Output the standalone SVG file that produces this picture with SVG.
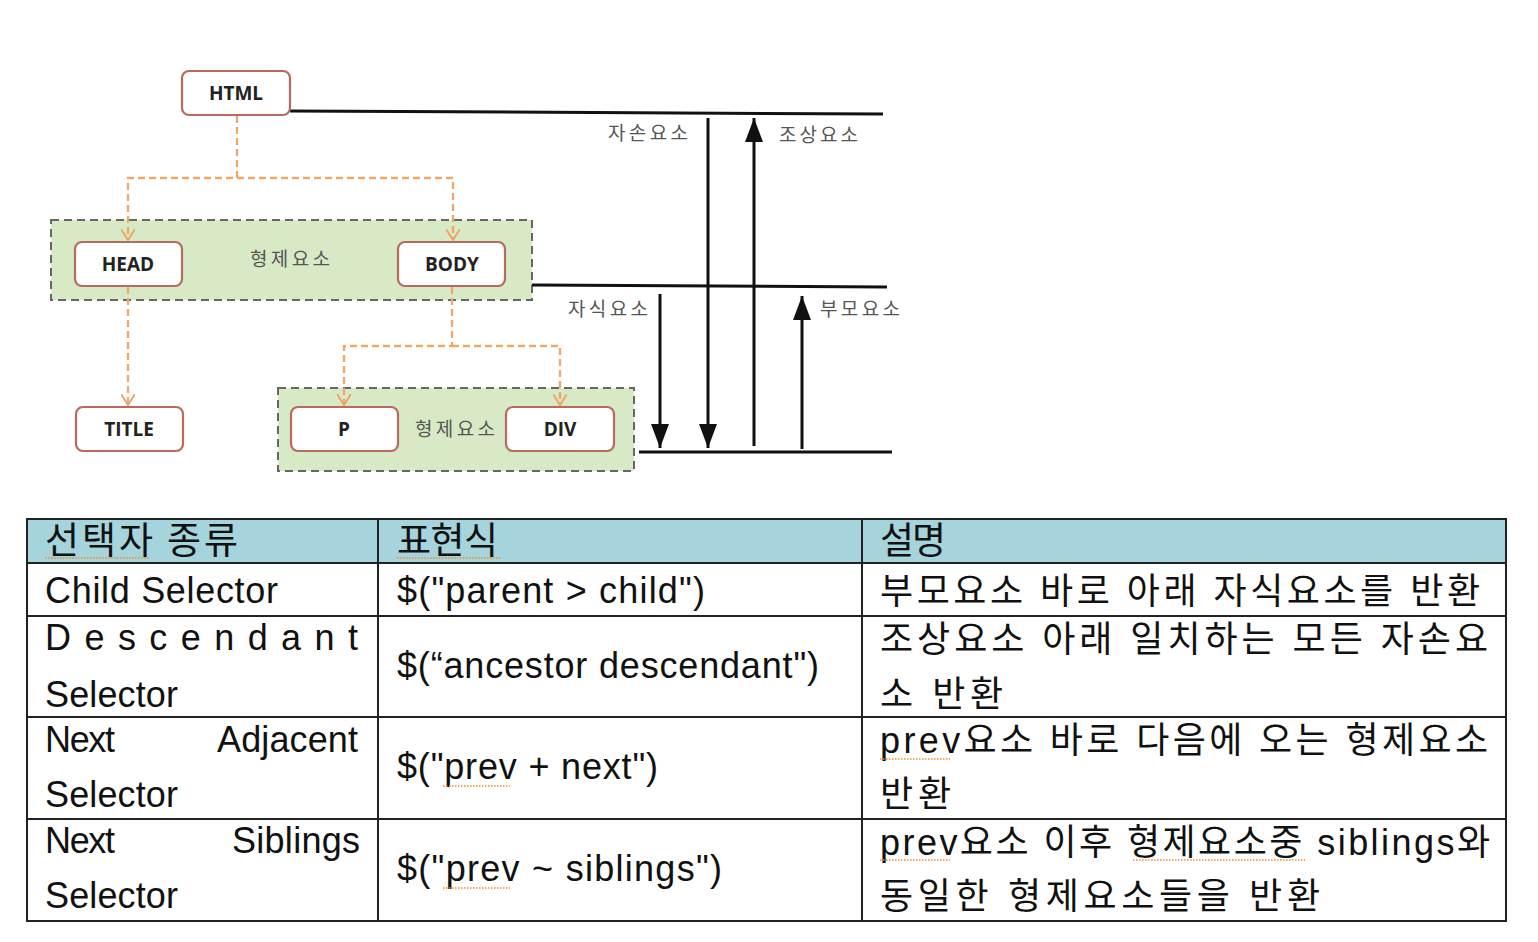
<svg xmlns="http://www.w3.org/2000/svg" width="1538" height="942" viewBox="0 0 1538 942">
<style>
.grp{fill:#d8e9c6;stroke:#666;stroke-width:2;stroke-dasharray:8 5}
.node{fill:#fff;stroke:#b86a5c;stroke-width:2.2}
.nl{font-family:"Open Sans","Liberation Sans",sans-serif;font-weight:bold;font-size:19px;fill:#222;text-anchor:middle}
.kl{font-family:"Noto Sans CJK KR","Noto Sans",sans-serif;font-size:19px;fill:#555}
.oc{fill:none;stroke:#f0a868;stroke-width:2.3;stroke-dasharray:7 4}
.bl{stroke:#111;stroke-width:3;fill:none}
.cell{fill:none;stroke:#222;stroke-width:2}
.t{font-family:"Liberation Sans","Noto Sans CJK KR",sans-serif;font-size:36px;fill:#111}
.th{font-family:"Noto Sans CJK KR",sans-serif;font-size:37px;fill:#111}
.sp{fill:none;stroke:#f08a30;stroke-width:1.6;stroke-dasharray:1.5 1.5}
</style>
<defs>
<marker id="ov" viewBox="0 0 12 14" refX="11" refY="7" markerWidth="12" markerHeight="14" orient="auto" markerUnits="userSpaceOnUse">
<path d="M0,0 L11,7 L0,14" fill="none" stroke="#f0a060" stroke-width="1.8"/>
</marker>
<marker id="ba" viewBox="0 0 24 18" refX="24" refY="9" markerWidth="24" markerHeight="18" orient="auto" markerUnits="userSpaceOnUse">
<path d="M0,0 L24,9 L0,18 z" fill="#111"/>
</marker>
</defs>
<rect width="1538" height="942" fill="#fff"/>

<g id="siblings1"><rect class="grp" x="51" y="220" width="481" height="80"/><text class="kl" x="250" y="266" textLength="80">형제요소</text></g>
<g id="siblings2"><rect class="grp" x="278" y="388" width="356" height="83"/><text class="kl" x="415" y="436" textLength="80">형제요소</text></g>

<g id="connectors">
<path class="oc" d="M237,116 V178 H128 V240" marker-end="url(#ov)"/>
<path class="oc" d="M237,178 H453 V240" marker-end="url(#ov)"/>
<path class="oc" d="M128,287 V405" marker-end="url(#ov)"/>
<path class="oc" d="M452,287 V346 H344 V405" marker-end="url(#ov)"/>
<path class="oc" d="M452,346 H560 V405" marker-end="url(#ov)"/>
<line class="bl" x1="290" y1="111" x2="883" y2="114"/>
<line class="bl" x1="532" y1="285" x2="887" y2="287"/>
<line class="bl" x1="639" y1="452" x2="892" y2="452"/>
<line class="bl" x1="660" y1="294" x2="660" y2="448" marker-end="url(#ba)"/>
<line class="bl" x1="708" y1="118" x2="708" y2="448" marker-end="url(#ba)"/>
<line class="bl" x1="754" y1="446" x2="754" y2="118" marker-end="url(#ba)"/>
<line class="bl" x1="802" y1="449" x2="802" y2="296" marker-end="url(#ba)"/>
<text class="kl" x="608" y="140" textLength="80">자손요소</text>
<text class="kl" x="779" y="142" textLength="79">조상요소</text>
<text class="kl" x="568" y="316" textLength="80">자식요소</text>
<text class="kl" x="820" y="316" textLength="80">부모요소</text>
</g>

<g id="html"><rect class="node" x="182" y="71" width="108" height="44" rx="7"/><text class="nl" x="236" y="100">HTML</text></g>
<g id="head"><rect class="node" x="75" y="242" width="107" height="44" rx="7"/><text class="nl" x="128" y="271">HEAD</text></g>
<g id="body"><rect class="node" x="398" y="242" width="107" height="44" rx="7"/><text class="nl" x="452" y="271">BODY</text></g>
<g id="title"><rect class="node" x="76" y="407" width="107" height="44" rx="7"/><text class="nl" x="129" y="436">TITLE</text></g>
<g id="p"><rect class="node" x="291" y="407" width="107" height="44" rx="7"/><text class="nl" x="344" y="436">P</text></g>
<g id="div"><rect class="node" x="506" y="407" width="108" height="44" rx="7"/><text class="nl" x="560" y="436">DIV</text></g>

<g id="table">
<rect x="27" y="519" width="1479" height="44" fill="#a5d4dc"/>
<rect class="cell" x="27" y="519" width="1479" height="402"/>
<line class="cell" x1="27" y1="563" x2="1506" y2="563"/>
<line class="cell" x1="27" y1="616" x2="1506" y2="616"/>
<line class="cell" x1="27" y1="717" x2="1506" y2="717"/>
<line class="cell" x1="27" y1="819" x2="1506" y2="819"/>
<line class="cell" x1="378" y1="519" x2="378" y2="921"/>
<line class="cell" x1="862" y1="519" x2="862" y2="921"/>

<text class="th" x="45" y="554" textLength="193">선택자 종류</text>
<text class="th" x="397" y="554" textLength="101">표현식</text>
<text class="th" x="880" y="554" textLength="66">설명</text>
<path class="sp" d="M45,558 H150 M397,558 H500"/>

<text class="t" x="45" y="603" textLength="233">Child Selector</text>
<text class="t" x="397" y="603" textLength="308">$("parent &gt; child")</text>
<text class="t" x="880" y="604" textLength="600">부모요소 바로 아래 자식요소를 반환</text>

<text class="t" x="45" y="650" textLength="313">Descendant</text>
<text class="t" x="45" y="707" textLength="133">Selector</text>
<text class="t" x="397" y="678" textLength="422">$(“ancestor descendant")</text>
<text class="t" x="880" y="652" textLength="608">조상요소 아래 일치하는 모든 자손요</text>
<text class="t" x="880" y="707" textLength="123">소 반환</text>

<text class="t" x="45" y="752" textLength="70">Next</text>
<text class="t" x="217" y="752" textLength="141">Adjacent</text>
<text class="t" x="45" y="807" textLength="133">Selector</text>
<text class="t" x="397" y="779" textLength="261">$("prev + next")</text>
<text class="t" x="880" y="753" textLength="608">prev요소 바로 다음에 오는 형제요소</text>
<text class="t" x="880" y="807" textLength="71">반환</text>
<path class="sp" d="M443,786 H510 M880,759 H950"/>

<text class="t" x="45" y="853" textLength="70">Next</text>
<text class="t" x="232" y="853" textLength="128">Siblings</text>
<text class="t" x="45" y="908" textLength="133">Selector</text>
<text class="t" x="397" y="881" textLength="325">$("prev ~ siblings")</text>
<text class="t" x="880" y="855" textLength="610">prev요소 이후 형제요소중 siblings와</text>
<text class="t" x="880" y="909" textLength="440">동일한 형제요소들을  반환</text>
<path class="sp" d="M443,888 H510 M880,860 H950 M1133,860 H1305"/>
</g>
</svg>
